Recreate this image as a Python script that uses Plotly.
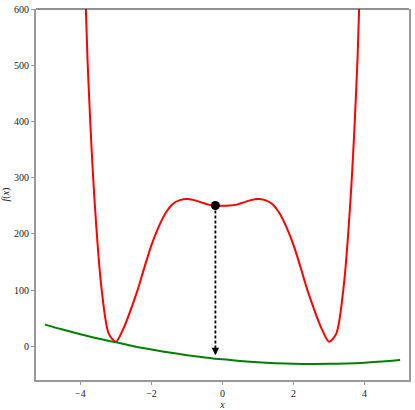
import plotly.graph_objects as go

red_x = [-4.0, -3.8, -3.6, -3.4, -3.2, -3.0, -2.8, -2.6, -2.4, -2.2, -2.0,
         -1.8, -1.6, -1.4, -1.2, -1.0, -0.8, -0.6, -0.4, -0.2, 0.0,
         0.2, 0.4, 0.6, 0.8, 1.0, 1.2, 1.4, 1.6, 1.8, 2.0,
         2.2, 2.4, 2.6, 2.8, 3.0, 3.2, 3.4, 3.6, 3.8, 4.0]
red_y = [900, 510, 258, 100, 22, 8, 30, 62, 98, 140, 180,
         212, 237, 253, 260, 262, 260, 256, 252, 250.5, 250,
         250.5, 252, 256, 260, 262, 260, 253, 237, 212, 180,
         140, 98, 62, 30, 8, 22, 100, 258, 510, 900]

# Green curve (surrogate)
green_x = [-5.0, -4.5, -4.0, -3.5, -3.0, -2.5, -2.0, -1.5, -1.0, -0.5, 0.0,
           0.5, 1.0, 1.5, 2.0, 2.5, 3.0, 3.5, 4.0, 4.5, 5.0]
green_y = [38.5, 29.7, 21.4, 13.7, 7.0, 0.1, -5.8, -11.1, -15.8, -19.8, -23.3,
           -26.1, -28.4, -30.0, -31.1, -31.5, -31.3, -30.5, -29.1, -27.1, -24.5]

# Current point and the arrow end
point_x = [-0.2]
point_y = [250.5]
arrow_end_y = -16

fig = go.Figure()
fig.add_trace(go.Scatter(x=red_x, y=red_y, mode="lines", line_shape="spline",
                         line=dict(color="#ff0000", width=2, smoothing=0.8),
                         showlegend=False))
fig.add_trace(go.Scatter(x=green_x, y=green_y, mode="lines", line_shape="spline",
                         line=dict(color="#008000", width=2), showlegend=False))
fig.add_trace(go.Scatter(x=[point_x[0], point_x[0]], y=[point_y[0], arrow_end_y + 4],
                         mode="lines", line=dict(color="black", width=1.8, dash="3px,2px"),
                         showlegend=False))
fig.add_annotation(x=point_x[0], y=arrow_end_y, ax=point_x[0], ay=arrow_end_y + 8,
                   xref="x", yref="y", axref="x", ayref="y", text="",
                   showarrow=True, arrowhead=2, arrowsize=1.0, arrowwidth=1.5,
                   arrowcolor="black")
fig.add_trace(go.Scatter(x=point_x, y=point_y, mode="markers",
                         marker=dict(color="black", size=9), showlegend=False))

fig.add_shape(type="line", xref="paper", yref="paper", x0=0, x1=1, y0=1, y1=1,
              line=dict(color="#222222", width=1))

font = dict(family="Liberation Serif, DejaVu Serif, serif", size=10, color="#222222")
fig.update_layout(
    width=415, height=410,
    margin=dict(l=36, r=6, t=9, b=30, autoexpand=False),
    plot_bgcolor="white", paper_bgcolor="white",
    font=font,
    xaxis=dict(range=[-5.25, 5.25], tickvals=[-4, -2, 0, 2, 4], automargin=False,
               showgrid=False, zeroline=False, showline=True, linecolor="#999999",
               linewidth=2, ticks="outside", ticklen=3, tickcolor="#999999",
               title=dict(text="<i>x</i>", standoff=2, font=font)),
    yaxis=dict(range=[-60, 600], tickvals=[0, 100, 200, 300, 400, 500, 600], automargin=False,
               showgrid=False, zeroline=False, showline=True, linecolor="#999999",
               linewidth=2, mirror=True, ticks="outside", ticklen=3, tickcolor="#999999",
               title=dict(text="<i>f</i>(<i>x</i>)", standoff=6, font=font)),
)

fig.write_html("out.html", config={"displayModeBar": False},
               post_script="document.body.style.margin='0';")
